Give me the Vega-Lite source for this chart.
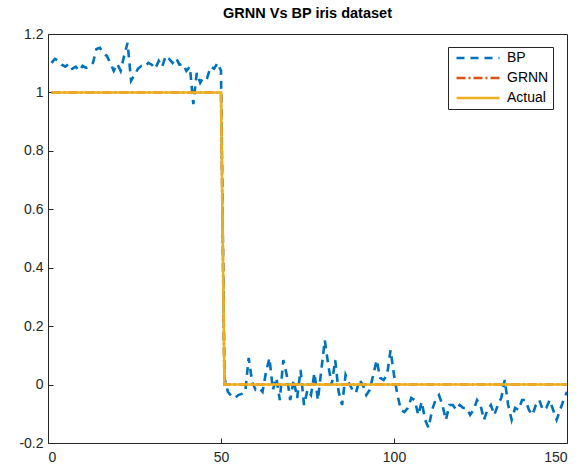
{
  "$schema": "https://vega.github.io/schema/vega-lite/v6.json",
  "autosize": "none",
  "width": 519,
  "height": 409,
  "padding": {"left": 48, "top": 34, "right": 19, "bottom": 27},
  "background": "white",
  "title": {"text": "GRNN Vs BP iris dataset", "font": "Liberation Sans", "fontSize": 14.5, "fontWeight": "bold", "color": "black", "offset": 6},
  "config": {
    "view": {"stroke": "#262626", "strokeWidth": 1},
    "axis": {"grid": false, "domain": false, "labelFont": "Liberation Sans", "labelFontSize": 14, "labelColor": "#262626", "tickColor": "#262626", "title": null}
  },
  "data": {"values": [
    {"x":1,"BP":1.101,"GRNN":1,"Actual":1},{"x":2,"BP":1.115,"GRNN":1,"Actual":1},{"x":3,"BP":1.108,"GRNN":1,"Actual":1},{"x":4,"BP":1.095,"GRNN":1,"Actual":1},{"x":5,"BP":1.088,"GRNN":1,"Actual":1},
    {"x":6,"BP":1.098,"GRNN":1,"Actual":1},{"x":7,"BP":1.081,"GRNN":1,"Actual":1},{"x":8,"BP":1.088,"GRNN":1,"Actual":1},{"x":9,"BP":1.074,"GRNN":1,"Actual":1},{"x":10,"BP":1.091,"GRNN":1,"Actual":1},
    {"x":11,"BP":1.084,"GRNN":1,"Actual":1},{"x":12,"BP":1.088,"GRNN":1,"Actual":1},{"x":13,"BP":1.101,"GRNN":1,"Actual":1},{"x":14,"BP":1.149,"GRNN":1,"Actual":1},{"x":15,"BP":1.153,"GRNN":1,"Actual":1},
    {"x":16,"BP":1.135,"GRNN":1,"Actual":1},{"x":17,"BP":1.125,"GRNN":1,"Actual":1},{"x":18,"BP":1.101,"GRNN":1,"Actual":1},{"x":19,"BP":1.074,"GRNN":1,"Actual":1},{"x":20,"BP":1.098,"GRNN":1,"Actual":1},
    {"x":21,"BP":1.074,"GRNN":1,"Actual":1},{"x":22,"BP":1.125,"GRNN":1,"Actual":1},{"x":23,"BP":1.170,"GRNN":1,"Actual":1},{"x":24,"BP":1.040,"GRNN":1,"Actual":1},{"x":25,"BP":1.060,"GRNN":1,"Actual":1},
    {"x":26,"BP":1.081,"GRNN":1,"Actual":1},{"x":27,"BP":1.091,"GRNN":1,"Actual":1},{"x":28,"BP":1.088,"GRNN":1,"Actual":1},{"x":29,"BP":1.101,"GRNN":1,"Actual":1},{"x":30,"BP":1.095,"GRNN":1,"Actual":1},
    {"x":31,"BP":1.081,"GRNN":1,"Actual":1},{"x":32,"BP":1.108,"GRNN":1,"Actual":1},{"x":33,"BP":1.088,"GRNN":1,"Actual":1},{"x":34,"BP":1.125,"GRNN":1,"Actual":1},{"x":35,"BP":1.115,"GRNN":1,"Actual":1},
    {"x":36,"BP":1.101,"GRNN":1,"Actual":1},{"x":37,"BP":1.118,"GRNN":1,"Actual":1},{"x":38,"BP":1.095,"GRNN":1,"Actual":1},{"x":39,"BP":1.098,"GRNN":1,"Actual":1},{"x":40,"BP":1.074,"GRNN":1,"Actual":1},
    {"x":41,"BP":1.088,"GRNN":1,"Actual":1},{"x":42,"BP":0.960,"GRNN":1,"Actual":1},{"x":43,"BP":1.067,"GRNN":1,"Actual":1},{"x":44,"BP":1.033,"GRNN":1,"Actual":1},{"x":45,"BP":1.054,"GRNN":1,"Actual":1},
    {"x":46,"BP":1.050,"GRNN":1,"Actual":1},{"x":47,"BP":1.088,"GRNN":1,"Actual":1},{"x":48,"BP":1.081,"GRNN":1,"Actual":1},{"x":49,"BP":1.101,"GRNN":1,"Actual":1},{"x":50,"BP":1.074,"GRNN":1,"Actual":1},
    {"x":51,"BP":0.023,"GRNN":0,"Actual":0},{"x":52,"BP":-0.025,"GRNN":0,"Actual":0},{"x":53,"BP":-0.039,"GRNN":0,"Actual":0},{"x":54,"BP":-0.046,"GRNN":0,"Actual":0},{"x":55,"BP":-0.036,"GRNN":0,"Actual":0},
    {"x":56,"BP":-0.032,"GRNN":0,"Actual":0},{"x":57,"BP":-0.025,"GRNN":0,"Actual":0},{"x":58,"BP":0.091,"GRNN":0,"Actual":0},{"x":59,"BP":0.009,"GRNN":0,"Actual":0},{"x":60,"BP":-0.018,"GRNN":0,"Actual":0},
    {"x":61,"BP":-0.012,"GRNN":0,"Actual":0},{"x":62,"BP":-0.025,"GRNN":0,"Actual":0},{"x":63,"BP":0.043,"GRNN":0,"Actual":0},{"x":64,"BP":0.091,"GRNN":0,"Actual":0},{"x":65,"BP":-0.018,"GRNN":0,"Actual":0},
    {"x":66,"BP":0.023,"GRNN":0,"Actual":0},{"x":67,"BP":-0.053,"GRNN":0,"Actual":0},{"x":68,"BP":0.084,"GRNN":0,"Actual":0},{"x":69,"BP":0.033,"GRNN":0,"Actual":0},{"x":70,"BP":-0.053,"GRNN":0,"Actual":0},
    {"x":71,"BP":0.016,"GRNN":0,"Actual":0},{"x":72,"BP":-0.046,"GRNN":0,"Actual":0},{"x":73,"BP":0.050,"GRNN":0,"Actual":0},{"x":74,"BP":-0.070,"GRNN":0,"Actual":0},{"x":75,"BP":-0.018,"GRNN":0,"Actual":0},
    {"x":76,"BP":-0.036,"GRNN":0,"Actual":0},{"x":77,"BP":0.040,"GRNN":0,"Actual":0},{"x":78,"BP":-0.053,"GRNN":0,"Actual":0},{"x":79,"BP":0.050,"GRNN":0,"Actual":0},{"x":80,"BP":0.152,"GRNN":0,"Actual":0},
    {"x":81,"BP":0.067,"GRNN":0,"Actual":0},{"x":82,"BP":-0.001,"GRNN":0,"Actual":0},{"x":83,"BP":0.084,"GRNN":0,"Actual":0},{"x":84,"BP":-0.025,"GRNN":0,"Actual":0},{"x":85,"BP":-0.070,"GRNN":0,"Actual":0},
    {"x":86,"BP":0.033,"GRNN":0,"Actual":0},{"x":87,"BP":0.005,"GRNN":0,"Actual":0},{"x":88,"BP":-0.018,"GRNN":0,"Actual":0},{"x":89,"BP":-0.029,"GRNN":0,"Actual":0},{"x":90,"BP":0.016,"GRNN":0,"Actual":0},
    {"x":91,"BP":-0.001,"GRNN":0,"Actual":0},{"x":92,"BP":-0.036,"GRNN":0,"Actual":0},{"x":93,"BP":-0.018,"GRNN":0,"Actual":0},{"x":94,"BP":0.033,"GRNN":0,"Actual":0},{"x":95,"BP":0.084,"GRNN":0,"Actual":0},
    {"x":96,"BP":0.023,"GRNN":0,"Actual":0},{"x":97,"BP":0.016,"GRNN":0,"Actual":0},{"x":98,"BP":0.033,"GRNN":0,"Actual":0},{"x":99,"BP":0.118,"GRNN":0,"Actual":0},{"x":100,"BP":0.033,"GRNN":0,"Actual":0},
    {"x":101,"BP":-0.036,"GRNN":0,"Actual":0},{"x":102,"BP":-0.087,"GRNN":0,"Actual":0},{"x":103,"BP":-0.094,"GRNN":0,"Actual":0},{"x":104,"BP":-0.080,"GRNN":0,"Actual":0},{"x":105,"BP":-0.046,"GRNN":0,"Actual":0},
    {"x":106,"BP":-0.053,"GRNN":0,"Actual":0},{"x":107,"BP":-0.104,"GRNN":0,"Actual":0},{"x":108,"BP":-0.059,"GRNN":0,"Actual":0},{"x":109,"BP":-0.121,"GRNN":0,"Actual":0},{"x":110,"BP":-0.148,"GRNN":0,"Actual":0},
    {"x":111,"BP":-0.087,"GRNN":0,"Actual":0},{"x":112,"BP":-0.053,"GRNN":0,"Actual":0},{"x":113,"BP":-0.036,"GRNN":0,"Actual":0},{"x":114,"BP":-0.070,"GRNN":0,"Actual":0},{"x":115,"BP":-0.121,"GRNN":0,"Actual":0},
    {"x":116,"BP":-0.070,"GRNN":0,"Actual":0},{"x":117,"BP":-0.070,"GRNN":0,"Actual":0},{"x":118,"BP":-0.087,"GRNN":0,"Actual":0},{"x":119,"BP":-0.070,"GRNN":0,"Actual":0},{"x":120,"BP":-0.080,"GRNN":0,"Actual":0},
    {"x":121,"BP":-0.080,"GRNN":0,"Actual":0},{"x":122,"BP":-0.104,"GRNN":0,"Actual":0},{"x":123,"BP":-0.087,"GRNN":0,"Actual":0},{"x":124,"BP":-0.053,"GRNN":0,"Actual":0},{"x":125,"BP":-0.070,"GRNN":0,"Actual":0},
    {"x":126,"BP":-0.121,"GRNN":0,"Actual":0},{"x":127,"BP":-0.087,"GRNN":0,"Actual":0},{"x":128,"BP":-0.070,"GRNN":0,"Actual":0},{"x":129,"BP":-0.104,"GRNN":0,"Actual":0},{"x":130,"BP":-0.070,"GRNN":0,"Actual":0},
    {"x":131,"BP":-0.046,"GRNN":0,"Actual":0},{"x":132,"BP":0.016,"GRNN":0,"Actual":0},{"x":133,"BP":-0.070,"GRNN":0,"Actual":0},{"x":134,"BP":-0.121,"GRNN":0,"Actual":0},{"x":135,"BP":-0.080,"GRNN":0,"Actual":0},
    {"x":136,"BP":-0.087,"GRNN":0,"Actual":0},{"x":137,"BP":-0.053,"GRNN":0,"Actual":0},{"x":138,"BP":-0.053,"GRNN":0,"Actual":0},{"x":139,"BP":-0.087,"GRNN":0,"Actual":0},{"x":140,"BP":-0.104,"GRNN":0,"Actual":0},
    {"x":141,"BP":-0.070,"GRNN":0,"Actual":0},{"x":142,"BP":-0.053,"GRNN":0,"Actual":0},{"x":143,"BP":-0.087,"GRNN":0,"Actual":0},{"x":144,"BP":-0.080,"GRNN":0,"Actual":0},{"x":145,"BP":-0.053,"GRNN":0,"Actual":0},
    {"x":146,"BP":-0.087,"GRNN":0,"Actual":0},{"x":147,"BP":-0.121,"GRNN":0,"Actual":0},{"x":148,"BP":-0.087,"GRNN":0,"Actual":0},{"x":149,"BP":-0.053,"GRNN":0,"Actual":0},{"x":150,"BP":-0.025,"GRNN":0,"Actual":0}
  ]},
  "transform": [{"fold": ["BP", "GRNN", "Actual"], "as": ["series", "value"]}],
  "mark": {"type": "line", "strokeWidth": 2.6, "clip": true},
  "encoding": {
    "x": {"field": "x", "type": "quantitative", "scale": {"domain": [0, 150], "nice": false, "zero": false},
      "axis": {"values": [0, 50, 100, 150], "tickSize": -5, "labelPadding": 12}},
    "y": {"field": "value", "type": "quantitative", "scale": {"domain": [-0.2, 1.2], "nice": false, "zero": false},
      "axis": {"values": [-0.2, 0, 0.2, 0.4, 0.6, 0.8, 1, 1.2], "tickSize": -5, "labelPadding": 10, "labelExpr": "'' + datum.value"}},
    "color": {"field": "series", "type": "nominal", "sort": ["BP", "GRNN", "Actual"],
      "scale": {"domain": ["BP", "GRNN", "Actual"], "range": ["#0072BD", "#D95319", "#EDB120"]},
      "legend": {"title": null, "orient": "none", "legendX": 400, "legendY": 13, "symbolType": "M-4.3,0H4.3", "symbolSize": 100, "symbolStrokeWidth": 2.6,
        "symbolOffset": 19,
        "labelFont": "Liberation Sans", "labelFontSize": 14, "labelColor": "black", "strokeColor": "#262626", "fillColor": "white", "padding": 4, "rowPadding": 6, "labelOffset": 22}},
    "strokeDash": {"field": "series", "type": "nominal", "sort": ["BP", "GRNN", "Actual"],
      "scale": {"domain": ["BP", "GRNN", "Actual"], "range": [[8, 6], [9, 3, 2, 3], [1, 0]]}},
    "order": {"field": "x", "type": "quantitative"}
  }
}
